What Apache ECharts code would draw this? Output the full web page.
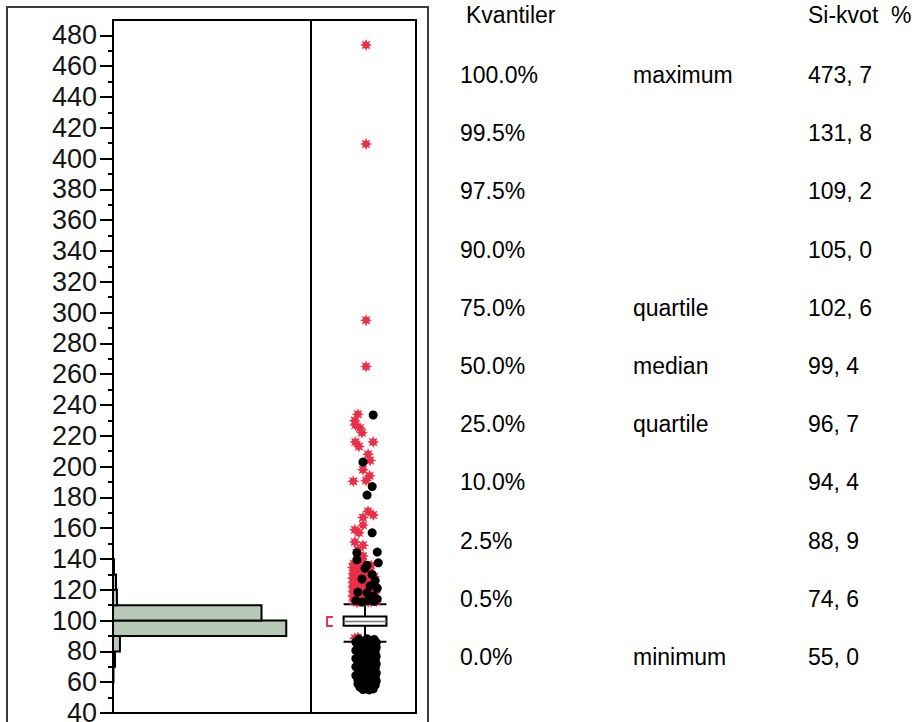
<!DOCTYPE html>
<html>
<head>
<meta charset="utf-8">
<script src="https://cdn.jsdelivr.net/npm/echarts@6/dist/echarts.min.js"></script>
<style>
html,body{margin:0;padding:0;background:#fff;}
#chart{width:919px;height:722px;}
</style>
</head>
<body>
<div id="chart"></div>
<script>
// ---------- DATA ----------
const yTickLabels = [40,60,80,100,120,140,160,180,200,220,240,260,280,300,320,340,360,380,400,420,440,460,480];
const yMinorTicks = [50,70,90,110,130,150,170,190,210,230,250,270,290,310,330,350,370,390,410,430,450,470];

const histBinStart = [60,70,80,90,100,110,120,130];
const histCounts   = [0.5,2,7,175,150,4,3,1];
const histBinWidth = 10;

// whisker low, Q1, median, Q3, whisker high
const boxStats = [86.2, 96.7, 99.4, 102.6, 110.6];
const shortestHalf = [96.5, 102.4];

// outlier points: [jitter, value]
const redPoints = [
  [0.02,473.7],[0.02,409.5],[0.02,295],[0.02,265],
  [-0.14,234],[-0.2,230],[-0.19,227],[-0.1,225],[-0.06,222],[-0.19,216],[0.16,216],
  [-0.12,213],[0.06,208],[0.1,204],
  [-0.04,198],[0.09,194],[0.02,191],[-0.23,190.5],[0.16,168.5],[-0.04,167],[0.06,171],
  [-0.04,162],[-0.2,159],[-0.12,157],[-0.2,151],[-0.04,149],[-0.14,146],[-0.04,142],[-0.1,139],
  [-0.22,137],[0.12,136],[-0.04,138],
  [-0.18,135],[-0.08,134],[0.04,133.5],[-0.2,132],[-0.12,131],[0.1,131.5],
  [-0.2,129],[-0.1,128],[0.0,129.5],[0.18,128.5],[-0.19,126],[-0.08,125],
  [0.06,126.5],[-0.2,123],[-0.1,122],[0.02,123.5],[0.16,124],[-0.2,120],
  [-0.1,119.5],[0.0,120.5],[0.14,121],[-0.18,117],[-0.06,116.5],[0.08,117.5],
  [0.2,118],[-0.2,114],[-0.1,113.5],[0.02,114.5],[0.16,115],[-0.16,111.8],
  [0.06,112],[0.22,112.5],
  [-0.24,134.5],[-0.15,133],[-0.05,132.4],[0.06,135.2],
  [-0.23,130.6],[-0.15,129.6],[-0.06,130.2],[0.08,129],
  [-0.24,127.6],[-0.14,126.8],[-0.03,127.4],[0.1,126.2],
  [-0.23,124.8],[-0.15,124.2],[-0.05,124.6],[0.08,123],
  [-0.24,121.8],[-0.15,121.2],[-0.05,121.6],[0.06,120.8],
  [-0.23,118.8],[-0.14,118.4],[-0.03,118.6],[0.12,119],
  [-0.24,116],[-0.15,115.4],[-0.04,115.8],[0.1,115],
  [-0.22,112.8],[-0.12,112.2],[-0.02,112.6],[0.12,112.2],
  [-0.2,88.6],[-0.14,89]
];
const blackPoints = [
  [0.16,233.5],[-0.04,203],[0.14,187],[0.04,181.5],[0.14,157],[-0.16,144],
  [0.24,144.5],[0.04,136],[0.26,137.5],[-0.16,139.5],[0.0,134],[0.14,130],
  [0.2,126],[-0.06,127],[0.1,122.5],[0.24,121],[-0.14,118.5],[0.04,118],
  [0.16,116],[-0.18,113],[-0.06,112],[0.06,113],[0.18,112.5],[0.24,114],
  [-0.12,88],[0.04,88.2],[0.18,87.8],
  [-0.18,86],[-0.04,85.6],[0.1,86.2],[0.22,85.8],
  [-0.14,83.5],[0.0,83],[0.14,83.8],[0.22,82.6],
  [-0.18,80.6],[-0.06,80.2],[0.08,81],[0.2,80],
  [-0.12,78],[0.02,77.6],[0.16,78.4],[0.22,76.8],
  [-0.18,75.4],[-0.04,75],[0.1,75.6],[0.2,74.6],
  [-0.14,72.6],[0.0,72.2],[0.14,73],[0.22,71.8],
  [-0.18,70],[-0.06,69.6],[0.08,70.4],[0.2,69.2],
  [-0.12,67.2],[0.02,66.8],[0.16,67.6],[0.22,66],
  [-0.18,64.4],[-0.04,64],[0.1,64.8],[0.2,63.6],
  [-0.14,61.8],[0.0,61.4],[0.14,62.2],[0.22,60.8],
  [-0.14,59],[-0.04,58.6],[0.1,59.4],[0.2,58.2],
  [-0.1,56.8],[0.04,56.4],[0.16,57],
  [-0.04,55.2],[0.08,55],[0.16,55.6],
  [-0.08,84.4],[0.06,79.2],[-0.1,73.8],[0.06,68.2],[-0.1,62.8],[0.06,60.2],[-0.02,81.8],[0.12,65.6]
];

const tableHeader = ['Kvantiler', 'Si-kvot  %'];
const quantilePct   = ['100.0%','99.5%','97.5%','90.0%','75.0%','50.0%','25.0%','10.0%','2.5%','0.5%','0.0%'];
const quantileName  = ['maximum','','','','quartile','median','quartile','','','','minimum'];
const quantileValue = [473.7,131.8,109.2,105.0,102.6,99.4,96.7,94.4,88.9,74.6,55.0];

// ---------- STYLE / LAYOUT ----------
const FONT = '"Liberation Sans", Arial, sans-serif';
const RED = '#ea3049';

function asteriskPath() {
  const pts = [];
  for (let i = 0; i < 16; i++) {
    const r = i % 2 === 0 ? 50 : 27;
    const a = Math.PI * i / 8 - Math.PI / 2;
    pts.push((50 + r * Math.cos(a)).toFixed(2) + ' ' + (50 + r * Math.sin(a)).toFixed(2));
  }
  return 'path://M' + pts.join(' L') + ' Z';
}

const fmt = v => v.toFixed(1).replace('.', ', ');

const graphicEls = [
  {type:'rect', silent:true, z:0, shape:{x:7, y:7, width:421, height:740},
   style:{fill:'none', stroke:'#3a3a3a', lineWidth:2}}
];
const colX = [460, 633, 808];
const headerY = 15, rowY0 = 75, rowGap = 58.2, tableFont = 23;
graphicEls.push({type:'text', x:466, y:headerY, style:{text:tableHeader[0], fontSize:tableFont, fontFamily:FONT, fill:'#000', verticalAlign:'middle'}});
graphicEls.push({type:'text', x:colX[2], y:headerY, style:{text:tableHeader[1], fontSize:tableFont, fontFamily:FONT, fill:'#000', verticalAlign:'middle'}});
quantilePct.forEach((p, i) => {
  const y = rowY0 + i * rowGap;
  [p, quantileName[i], fmt(quantileValue[i])].forEach((t, j) => {
    if (!t) return;
    graphicEls.push({type:'text', x:colX[j], y:y, style:{text:t, fontSize:tableFont, fontFamily:FONT, fill:'#000', verticalAlign:'middle'}});
  });
});

const chart = echarts.init(document.getElementById('chart'), null, {renderer:'svg'});

const option = {
  animation: false,
  backgroundColor: '#fff',
  grid: [
    {left:113, top:20, width:198, height:693, show:true, borderColor:'#000', borderWidth:2, backgroundColor:'transparent', outerBoundsMode:'none'},
    {left:311, top:20, width:105, height:693, show:true, borderColor:'#000', borderWidth:2, backgroundColor:'transparent', outerBoundsMode:'none'}
  ],
  xAxis: [
    {type:'value', gridIndex:0, min:0, max:200, show:false},
    {type:'value', gridIndex:1, min:-1.06, max:1, show:false}
  ],
  yAxis: [
    {type:'value', gridIndex:0, min:40, max:490, position:'left',
     axisLine:{show:true, lineStyle:{color:'#000', width:2}},
     axisTick:{show:true, customValues:yTickLabels, length:13, lineStyle:{color:'#000', width:2}},
     axisLabel:{show:true, customValues:yTickLabels, margin:16, fontSize:27, fontFamily:FONT, color:'#151515'},
     splitLine:{show:false}},
    {type:'value', gridIndex:0, min:40, max:490, position:'left',
     axisLine:{show:false},
     axisTick:{show:true, customValues:yMinorTicks, length:5, lineStyle:{color:'#000', width:2}},
     axisLabel:{show:false},
     splitLine:{show:false}},
    {type:'value', gridIndex:1, min:40, max:490, show:false, splitLine:{show:false}}
  ],
  graphic: {elements: graphicEls},
  series: [
    {
      type:'custom', xAxisIndex:0, yAxisIndex:0, z:2,
      encode:{x:1, y:0},
      data: histBinStart.map((s, i) => [s, histCounts[i]]),
      renderItem: function (params, api) {
        const y0 = api.value(0), c = api.value(1);
        const a = api.coord([0, y0 + histBinWidth]);
        const b = api.coord([c, y0]);
        return {type:'rect', shape:{x:a[0], y:a[1], width:b[0]-a[0], height:b[1]-a[1]},
                style:{fill:'#b8c9b8', stroke:'#000', lineWidth:2}};
      }
    },
    {
      type:'custom', xAxisIndex:1, yAxisIndex:2, z:2,
      data:[[0, boxStats[2]]],
      renderItem: function (params, api) {
        const lo = boxStats[0], q1 = boxStats[1], med = boxStats[2], q3 = boxStats[3], hi = boxStats[4];
        const hw = 0.42;
        const P = (x, y) => api.coord([x, y]);
        const line = (x1, y1, x2, y2, color, w) => {
          const p1 = P(x1, y1), p2 = P(x2, y2);
          return {type:'line', shape:{x1:p1[0], y1:p1[1], x2:p2[0], y2:p2[1]}, style:{stroke:color, lineWidth:w}};
        };
        const tl = P(-hw, q3), br = P(hw, q1);
        const bx0 = -0.745, bx1 = -0.63;
        const b1 = P(bx1, shortestHalf[1]), b2 = P(bx0, shortestHalf[1]), b3 = P(bx0, shortestHalf[0]), b4 = P(bx1, shortestHalf[0]);
        return {type:'group', children:[
          line(0, hi, 0, q3, '#000', 2),
          line(0, q1, 0, lo, '#000', 2),
          line(-hw, hi, hw, hi, '#000', 2),
          line(-hw, lo, hw, lo, '#000', 2),
          {type:'rect', shape:{x:tl[0], y:tl[1], width:br[0]-tl[0], height:br[1]-tl[1]},
           style:{fill:'#fff', stroke:'#000', lineWidth:2}},
          line(-hw, med, hw, med, '#777', 1.5),
          {type:'polyline', shape:{points:[b1, b2, b3, b4]}, style:{stroke:RED, lineWidth:2, fill:null}}
        ]};
      }
    },
    {
      type:'scatter', xAxisIndex:1, yAxisIndex:2, z:3,
      symbol: asteriskPath(), symbolSize:12,
      itemStyle:{color:RED, opacity:1},
      data: redPoints
    },
    {
      type:'scatter', xAxisIndex:1, yAxisIndex:2, z:4,
      symbol:'circle', symbolSize:9,
      itemStyle:{color:'#000', opacity:1},
      data: blackPoints
    }
  ]
};
chart.setOption(option);
</script>
</body>
</html>
